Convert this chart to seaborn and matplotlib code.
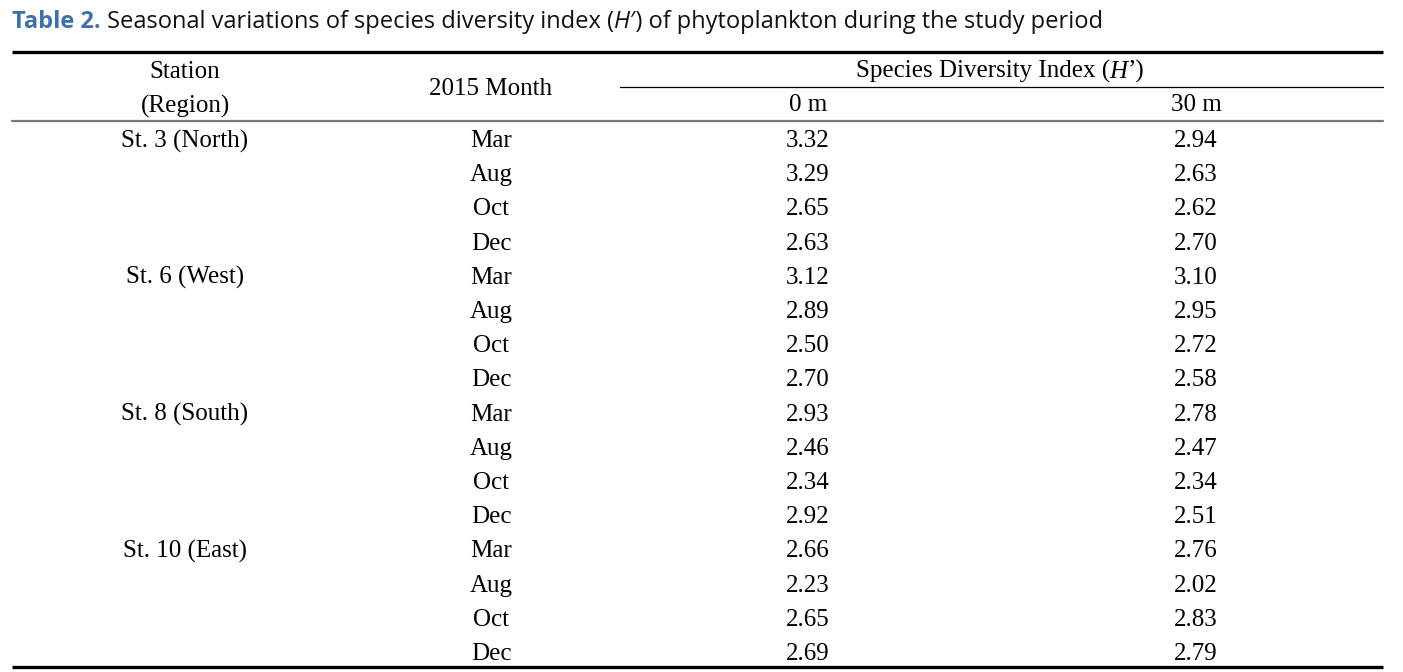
import matplotlib
matplotlib.use("Agg")
import matplotlib.pyplot as plt
import seaborn as sns
import pandas as pd

# table content
stations = ["St. 3 (North)", "St. 6 (West)", "St. 8 (South)", "St. 10 (East)"]
months = ["Mar", "Aug", "Oct", "Dec"]
h_0m = [3.32, 3.29, 2.65, 2.63,
        3.12, 2.89, 2.50, 2.70,
        2.93, 2.46, 2.34, 2.92,
        2.66, 2.23, 2.65, 2.69]
h_30m = [2.94, 2.63, 2.62, 2.70,
         3.10, 2.95, 2.72, 2.58,
         2.78, 2.47, 2.34, 2.51,
         2.76, 2.02, 2.83, 2.79]

df = pd.DataFrame({
    "station": [s for s in stations for _ in months],
    "month": months * len(stations),
    "0 m": h_0m,
    "30 m": h_30m,
})

SERIF = ["Liberation Serif", "DejaVu Serif"]
SANS = ["Open Sans", "DejaVu Sans"]
BLUE = "#3f70a8"


def chain(ax, x, y, pieces, **kw):
    """Draw text pieces one after another on the same baseline."""
    fig = ax.figure
    r = fig.canvas.get_renderer()
    for txt, extra in pieces:
        opts = dict(kw)
        opts.update(extra)
        t = ax.text(x, y, txt, va="baseline", ha="left", **opts)
        bb = t.get_window_extent(renderer=r)
        x = ax.transData.inverted().transform((bb.x1, bb.y0))[0]
    return x


def main():
    sns.set_theme(style="white")
    fig = plt.figure(figsize=(14.03, 6.72), dpi=100)
    ax = fig.add_axes([0, 0, 1, 1])
    ax.set_xlim(0, 1403)
    ax.set_ylim(672, 0)
    ax.axis("off")

    # title
    chain(ax, 12, 28, [
        ("Table 2.", dict(color=BLUE, fontweight="bold")),
        (" Seasonal variations of species diversity index (", {}),
        ("H", dict(style="italic")),
        ("′) of phytoplankton during the study period", {}),
    ], family=SANS, fontsize=17, color="#111111")

    # rules
    left, right = 12, 1383
    ax.plot([left, right], [52, 52], color="black", lw=2.4, solid_capstyle="butt")
    ax.plot([620, right], [87, 87], color="black", lw=0.9)
    ax.plot([left, right], [121, 121], color="#777777", lw=1.6)
    ax.plot([left, right], [667, 667], color="black", lw=2.4, solid_capstyle="butt")

    cx = {"station": 185, "month": 491, "0 m": 808, "30 m": 1196}
    fs = 18
    tk = dict(family=SERIF, fontsize=fs, color="black", ha="center", va="center")

    # header
    ax.text(cx["station"], 72, "Station", **tk)
    ax.text(cx["station"], 106, "(Region)", **tk)
    ax.text(cx["month"], 89, "2015 Month", **tk)
    # centred header with italic H
    r = fig.canvas.get_renderer()
    probe = ax.text(0, 0, "Species Diversity Index (H’)", family=SERIF, fontsize=fs)
    w = probe.get_window_extent(renderer=r).width
    probe.remove()
    chain(ax, 1000 - w / 2, 78, [
        ("Species Diversity Index (", {}),
        ("H", dict(style="italic")),
        ("’)", {}),
    ], family=SERIF, fontsize=fs, color="black")
    ax.text(cx["0 m"], 105, "0 m", **tk)
    ax.text(cx["30 m"], 105, "30 m", **tk)

    # body
    y0, dy = 141, 34.2
    for i, row in df.reset_index(drop=True).iterrows():
        y = y0 + i * dy
        if i % len(months) == 0:
            ax.text(cx["station"], y, row["station"], **tk)
        ax.text(cx["month"], y, row["month"], **tk)
        ax.text(cx["0 m"], y, f"{row['0 m']:.2f}", **tk)
        ax.text(cx["30 m"], y, f"{row['30 m']:.2f}", **tk)

    fig.savefig("out.png", dpi=100, facecolor="white")
    plt.close(fig)


if __name__ == "__main__":
    main()
